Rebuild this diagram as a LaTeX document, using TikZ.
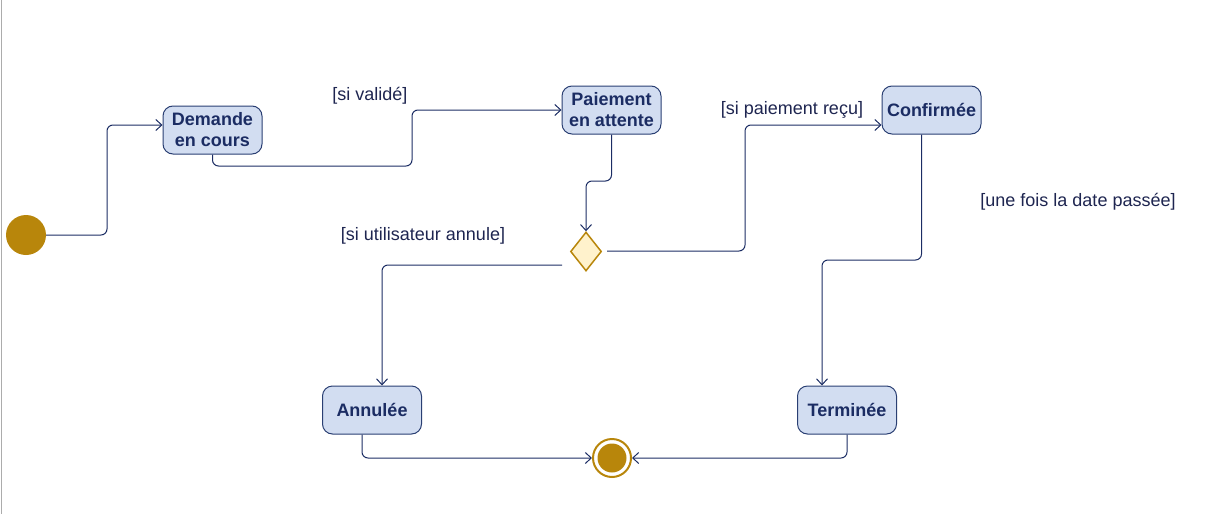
\documentclass[tikz,border=0pt]{standalone}
\usepackage{fontspec}
\setmainfont{Liberation Sans}
\usetikzlibrary{arrows.meta,shapes.geometric}
\definecolor{edgecol}{HTML}{1C2D64}
\definecolor{stdraw}{HTML}{2A3F73}
\definecolor{stfill}{HTML}{D2DDF1}
\definecolor{sttext}{HTML}{1B2C63}
\definecolor{gold}{HTML}{B8860B}
\definecolor{diafill}{HTML}{FFF2CC}
\definecolor{labcol}{HTML}{1E2550}
\tikzset{
  statebox/.style={draw=stdraw, fill=stfill, rounded corners=10pt, line width=1pt,
    minimum width=99pt, minimum height=48pt, inner sep=0pt, align=center,
    font=\fontsize{18}{21}\selectfont\bfseries, text=sttext},
  edge/.style={draw=edgecol, line width=1pt, rounded corners=6pt,
    -{Straight Barb[length=6pt,width=11pt,line width=1pt]}},
  guard/.style={font=\fontsize{18}{21}\selectfont, text=labcol, inner sep=0pt},
}
\begin{document}
\begin{tikzpicture}[x=1pt,y=-1pt]
\useasboundingbox (0,0) rectangle (1206,514);
\draw[gray!65, line width=1pt] (1.5,0) -- (1.5,514);

\node[circle, fill=gold, minimum size=40pt, inner sep=0pt] (init) at (26,235) {};
\node[statebox] (dem) at (212.5,130) {Demande\\en cours};
\node[statebox] (pay) at (611.5,110) {Paiement\\en attente};
\node[statebox] (conf) at (931.5,110) {Confirmée};
\node[statebox] (ann) at (372,410) {Annulée};
\node[statebox] (term) at (847,410) {Terminée};
\node[diamond, draw=gold, fill=diafill, line width=1.5pt, minimum width=31pt,
  minimum height=39pt, inner sep=0pt] (dia) at (586,251.5) {};
\node[circle, draw=gold, line width=2pt, minimum size=38pt, inner sep=0pt] (final) at (612,458) {};
\node[circle, fill=gold, minimum size=29pt, inner sep=0pt] (finalin) at (final.center) {};

\coordinate (dR) at (607,251);
\coordinate (dL) at (562,265);

\draw[edge] (init.east) -| (107,125) -- ([yshift=5pt]dem.west);
\draw[edge] (dem.south) |- (412,166) |- (pay.west);
\draw[edge] (pay.south) |- (586,181) -- (dia.north);
\draw[edge] (dR) -| (745,125) -- ([yshift=-15pt]conf.west);
\draw[edge] (dL) -| ([xshift=10pt]ann.north);
\draw[edge] ([xshift=-10pt]conf.south) |- (822,260) -- ([xshift=-25pt]term.north);
\draw[edge] ([xshift=-10pt]ann.south) |- (final.west);
\draw[edge] (term.south) |- (final.east);

\node[guard] (g1) at (370,96) {[si validé]};
\node[guard] (g2) at (792,110) {[si paiement reçu]};
\node[guard] (g3) at (423,236) {[si utilisateur annule]};
\node[guard] (g4) at (1078,202) {[une fois la date passée]};
\end{tikzpicture}
\end{document}
